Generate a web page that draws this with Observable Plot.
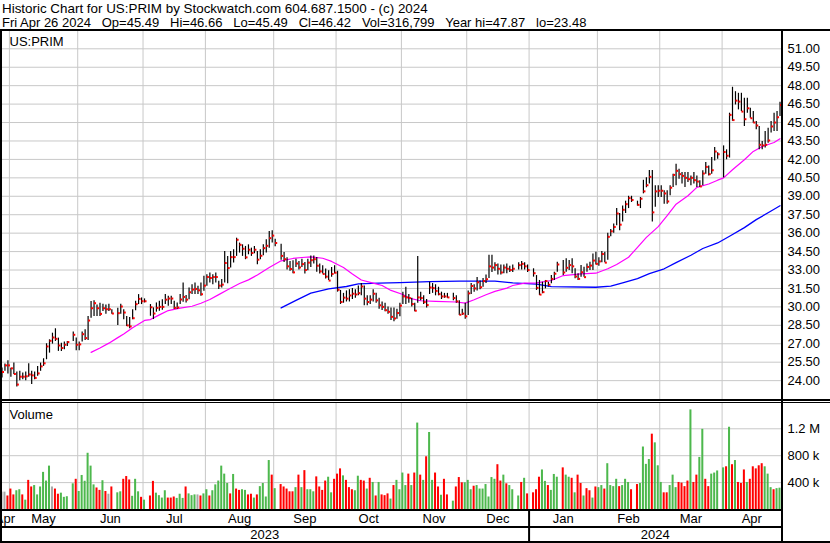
<!DOCTYPE html>
<html><head><meta charset="utf-8">
<script src="https://cdn.jsdelivr.net/npm/d3@7"></script>
<script src="https://cdn.jsdelivr.net/npm/@observablehq/plot@0.6"></script>
<style>
body{margin:0;background:#fff;}
#chart{position:relative;width:830px;height:543px;overflow:hidden;background:#fff;font-family:"Liberation Sans",Arial,sans-serif;}
#chart > *{position:absolute;}
.ln{background:#000;}
</style></head>
<body><div id="chart"></div>
<script>
// ---------- DATA ----------
const symbol = "US:PRIM";
const headerLine1 = "Historic Chart for US:PRIM by Stockwatch.com 604.687.1500 - (c) 2024";
const headerFields = ["Fri Apr 26 2024", "Op=45.49", "Hi=46.66", "Lo=45.49", "Cl=46.42", "Vol=316,799", "Year hi=47.87", "lo=23.48"];
const startDate = "2023-04-26", endDate = "2024-04-26";
const holidays = ["2023-05-29","2023-06-19","2023-07-04","2023-09-04","2023-11-23","2023-12-25","2024-01-01","2024-01-15","2024-02-19","2024-03-29"];
const priceTicks = [24,25.5,27,28.5,30,31.5,33,34.5,36,37.5,39,40.5,42,43.5,45,46.5,48,49.5,51];
const volumeTicks = [400000, 800000, 1200000];
const volumeTickLabels = ["400 k", "800 k", "1.2 M"];
const monthNames = ["Jan","Feb","Mar","Apr","May","Jun","Jul","Aug","Sep","Oct","Nov","Dec"];

// daily high / low / close per trading day (one line per month)
const high = [25.03,25.35,25.62,
25.0,25.43,24.70,24.76,24.62,24.70,25.38,24.76,24.70,25.14,25.43,25.78,27.0,27.32,27.86,28.22,27.46,27.05,27.14,27.19,27.95,27.46,
27.14,27.95,28.14,29.22,30.43,30.49,30.16,30.30,30.22,30.16,30.22,29.76,29.89,30.22,29.76,29.22,29.14,29.76,30.46,31.0,30.73,
30.65,30.19,29.92,30.32,30.46,30.59,31.0,30.86,30.86,30.46,30.32,31.0,31.95,30.92,31.54,31.81,31.95,31.68,31.95,32.49,
32.62,32.76,32.62,32.76,32.08,32.22,34.51,34.11,34.51,34.65,35.59,35.19,35.05,34.92,35.05,34.78,34.92,34.51,34.65,35.05,35.46,36.14,36.2,
35.5,35.1,34.42,34.0,33.70,33.75,33.88,33.70,33.88,33.62,33.88,34.15,34.15,34.02,33.48,33.35,33.08,32.95,33.21,33.35,
32.9,31.34,31.1,31.3,31.4,31.5,31.4,31.7,31.9,31.7,30.9,30.9,31.4,31.1,30.7,30.4,30.3,30.0,29.9,29.9,29.8,30.3,
31.2,31.6,31.0,30.7,30.3,34.1,31.2,30.9,30.6,32.0,31.9,31.8,31.6,31.2,31.1,31.1,31.1,30.9,30.5,29.8,30.3,
31.3,31.9,31.8,32.4,32.1,32.3,32.6,34.2,34.2,33.6,33.5,33.4,33.4,33.5,33.3,33.4,33.6,33.7,33.6,33.4,
33.1,32.55,32.15,32.01,32.15,32.01,32.55,32.82,33.64,33.77,33.91,33.77,33.91,33.1,32.69,33.36,33.23,33.5,33.64,34.31,34.45,
34.0,34.5,34.45,36.0,36.3,36.74,38.0,37.6,38.2,38.6,39.0,39.0,38.6,38.9,40.3,40.5,41.1,41.1,39.85,39.85,
39.85,39.45,39.45,39.85,40.8,41.61,41.2,40.93,40.93,40.93,40.66,40.93,40.66,40.26,41.07,41.74,41.47,42.15,42.96,42.55,
43.1,42.78,45.76,47.87,47.51,47.38,47.38,46.97,46.97,46.16,45.89,45.08,44.68,43.46,44.27,44.54,45.08,45.76,45.89,46.66];
const low = [24.22,24.76,24.54,
24.27,24.49,23.48,24.0,24.08,24.0,24.27,23.68,24.08,24.35,24.76,25.16,25.70,26.24,26.97,27.19,26.38,26.38,26.51,26.78,27.19,26.43,
26.43,27.14,27.27,27.27,29.08,29.22,29.22,29.22,29.62,29.41,29.62,29.41,28.49,29.41,28.95,28.41,28.22,28.95,29.68,30.19,30.19,
30.32,29.24,28.97,29.57,29.65,29.73,30.19,30.05,30.19,29.78,29.78,30.19,30.38,30.32,30.59,31.0,31.0,31.0,30.86,31.27,
31.68,31.95,31.81,31.95,31.41,31.54,31.95,31.89,33.16,33.57,34.11,34.38,34.11,33.84,34.24,34.11,34.32,33.43,33.84,34.16,34.38,34.78,35.2,
34.9,33.8,33.62,33.0,32.89,32.70,33.21,33.0,33.21,32.68,32.95,33.21,33.48,32.81,32.68,32.68,32.27,32.14,32.41,32.68,
31.2,30.2,30.3,30.4,30.4,30.6,30.7,30.9,30.9,30.1,30.1,30.2,30.4,30.3,29.8,29.7,29.6,29.4,28.9,28.8,29.0,29.2,
30.2,30.2,30.3,30.0,29.6,30.3,30.5,30.2,29.9,31.0,31.1,30.9,30.9,30.6,30.7,30.7,30.5,30.3,29.3,29.3,29.0,
29.3,31.0,31.2,31.3,31.4,31.6,31.9,32.3,32.8,32.9,32.6,32.6,32.7,32.7,32.8,32.8,33.0,33.0,33.0,32.8,
32.42,31.34,30.93,31.07,31.47,31.61,31.88,32.15,32.82,32.55,32.82,32.96,32.69,32.28,32.15,32.42,32.42,32.82,32.96,32.96,33.4,
33.3,33.6,33.6,33.8,35.7,36.0,36.6,36.2,36.9,37.6,38.0,38.5,38.2,38.0,39.2,39.7,40.0,36.9,38.1,38.9,
38.9,38.36,38.36,39.04,39.72,39.85,40.39,39.99,39.72,40.12,39.85,39.99,39.72,39.72,39.85,40.8,40.66,40.8,41.88,42.01,
40.5,41.97,42.11,45.1,46.43,46.03,45.89,44.68,45.76,45.35,44.95,44.41,42.78,42.78,42.92,43.32,44.14,44.27,44.27,45.49];
const close = [24.70,25.24,25.24,
25.0,24.54,23.68,24.32,24.32,24.35,24.5,24.43,24.22,24.59,25.16,25.41,26.78,27.24,27.51,27.40,26.86,26.65,26.92,27.14,27.73,26.92,
26.95,27.78,27.46,28.89,29.89,30.30,29.89,29.43,29.89,29.81,29.81,29.46,29.49,30.03,29.54,28.49,28.41,29.08,30.22,30.65,30.46,
30.46,29.97,29.46,29.92,30.0,30.0,30.59,30.68,30.68,29.92,29.95,30.6,30.81,30.59,31.19,31.41,31.46,31.35,31.03,31.73,
32.43,32.35,32.43,32.43,31.73,31.81,33.57,33.16,34.05,34.05,35.46,35.05,34.73,34.03,34.65,34.38,34.65,33.84,34.16,34.78,34.97,35.59,35.8,
35.2,34.15,33.88,33.3,33.08,32.81,33.53,33.21,33.48,33.0,33.6,33.8,33.88,33.35,32.89,32.68,32.46,32.14,32.68,32.78,
31.39,30.4,30.75,30.67,30.93,31.07,31.01,31.12,31.66,30.67,30.4,30.59,31.07,30.53,30.13,30.0,29.73,29.6,29.19,29.06,29.5,30.1,
30.85,30.77,30.72,30.23,29.69,30.77,30.72,30.39,30.15,31.58,31.53,31.3,31.04,30.85,30.85,30.77,30.72,30.45,29.36,29.45,29.23,
31.1,31.7,31.5,32.0,31.6,32.1,32.25,33.3,33.2,33.4,33.1,32.8,33.2,33.1,33.0,33.1,33.4,33.5,33.3,33.0,
32.74,31.55,31.0,31.2,32.1,31.8,32.28,32.7,33.45,32.8,33.18,33.4,33.3,32.47,32.28,32.82,32.42,33.25,33.36,33.77,33.5,
33.7,34.3,33.6,35.7,36.15,36.5,37.6,36.69,37.9,38.36,38.85,38.7,38.3,38.8,39.4,39.9,40.58,37.69,39.4,39.45,
39.45,39.23,38.58,39.7,40.74,41.07,40.8,40.66,40.5,40.39,40.5,40.31,40.2,39.8,40.85,41.39,40.8,41.12,42.64,42.42,
42.6,42.3,45.62,45.2,46.78,46.7,45.89,45.27,46.16,45.35,45.0,44.76,43.19,43.14,43.19,43.54,44.68,45.0,45.43,46.42];
// daily volume in thousands of shares (one line per month)
const volumeK = [258,258,201,
304,217,279,294,217,139,433,335,356,217,335,552,423,645,335,304,227,243,181,190,382,449,
268,506,420,836,645,366,320,284,428,268,227,335,248,263,449,490,439,196,449,263,181,
139,201,418,243,206,170,279,170,170,186,165,227,165,335,232,206,217,217,201,232,
294,201,279,366,423,645,526,387,232,521,304,284,294,284,217,227,170,217,340,387,186,728,511,
310,371,335,304,263,263,325,511,325,578,294,294,263,485,335,284,423,480,248,449,
526,604,500,433,325,294,279,495,433,423,304,464,402,201,402,217,206,232,155,356,433,294,
542,356,526,356,542,1285,511,433,784,1145,433,542,335,212,449,217,124,335,475,397,397,
433,294,346,356,304,304,371,186,475,449,666,423,511,382,356,294,201,402,464,232,
248,294,480,588,418,356,284,521,480,619,511,480,464,248,511,387,201,310,279,170,335,
325,356,304,681,356,340,449,340,356,449,402,294,371,387,929,671,743,1120,991,650,
402,248,248,356,511,325,402,392,340,423,1481,402,511,774,1192,449,340,526,542,573,
619,635,1223,666,728,402,387,588,402,449,635,604,650,681,635,526,325,294,310,317];
// close vs previous close per trading day: u = up, d = down, n = unchanged (one entry per month)
const volDirByMonth = [
  "nnd",
  "dduud"+"udduu"+"uuuun"+"dduuu"+"ud",
  "uuuuu"+"uddud"+"nduud"+"dduuu"+"d",
  "udduu"+"uuddd"+"uuudu"+"uundu",
  "uduuu"+"uuudu"+"dduud"+"duduu"+"uud",
  "udddd"+"dudud"+"uuudd"+"dduud",
  "ddudd"+"duudd"+"ududu"+"dddud"+"uu",
  "uudud"+"ududu"+"uddud"+"duddd"+"u",
  "uuduu"+"uuuuu"+"ddudu"+"uudud",
  "ddduu"+"duuud"+"uudud"+"duddu"+"d",
  "uuduu"+"uuduu"+"udduu"+"uuduu",
  "udduu"+"udddd"+"udduu"+"dduuu",
  "ududu"+"dddud"+"ddddu"+"uuduu"
];
// moving averages
const maShort = [["2023-06-07",26.3],["2023-06-12",26.65],["2023-06-15",27.05],["2023-06-20",27.5],["2023-06-22",27.8],["2023-06-27",28.3],["2023-07-03",28.9],["2023-07-05",28.97],["2023-07-10",29.35],["2023-07-13",29.7],["2023-07-19",29.9],["2023-07-25",30.05],["2023-07-28",30.3],["2023-08-02",30.6],["2023-08-07",31.0],["2023-08-10",31.4],["2023-08-16",31.9],["2023-08-21",32.2],["2023-08-24",32.6],["2023-08-30",33.2],["2023-09-05",33.75],["2023-09-11",33.94],["2023-09-14",34.02],["2023-09-19",34.07],["2023-09-25",33.96],["2023-09-28",33.7],["2023-10-04",33.2],["2023-10-09",32.68],["2023-10-12",32.19],["2023-10-18",31.93],["2023-10-23",31.74],["2023-10-26",31.34],["2023-11-01",31.01],["2023-11-03",30.72],["2023-11-09",30.5],["2023-11-16",30.45],["2023-11-27",30.4],["2023-11-30",30.31],["2023-12-05",30.58],["2023-12-11",30.99],["2023-12-14",31.26],["2023-12-20",31.53],["2023-12-22",31.74],["2023-12-28",31.93],["2024-01-03",31.95],["2024-01-10",32.15],["2024-01-16",32.55],["2024-01-24",32.69],["2024-01-31",32.74],["2024-02-06",33.1],["2024-02-09",33.45],["2024-02-15",34.04],["2024-02-20",34.85],["2024-02-23",35.66],["2024-02-29",36.53],["2024-03-05",37.42],["2024-03-08",38.36],["2024-03-14",39.04],["2024-03-19",39.72],["2024-03-25",40.0],["2024-03-28",40.31],["2024-04-01",40.5],["2024-04-04",41.16],["2024-04-10",41.97],["2024-04-15",42.65],["2024-04-18",43.05],["2024-04-24",43.38],["2024-04-26",43.68]];
const maLong = [["2023-09-05",29.92],["2023-09-12",30.53],["2023-09-19",31.12],["2023-09-27",31.47],["2023-10-05",31.66],["2023-10-11",31.87],["2023-10-20",31.93],["2023-10-31",31.97],["2023-11-14",32.05],["2023-11-28",32.1],["2023-12-14",32.1],["2023-12-22",31.95],["2024-01-03",31.85],["2024-01-10",31.65],["2024-01-31",31.6],["2024-02-07",31.69],["2024-02-13",31.95],["2024-02-20",32.3],["2024-02-26",32.7],["2024-03-04",33.1],["2024-03-08",33.6],["2024-03-15",34.2],["2024-03-21",34.75],["2024-03-28",35.2],["2024-04-03",35.75],["2024-04-10",36.45],["2024-04-16",37.1],["2024-04-23",37.8],["2024-04-26",38.23]];

// ---------- BUILD ----------
const volDir = volDirByMonth.join("");
const weekdays = [];
for (let d = new Date(startDate + "T00:00:00Z"); d <= new Date(endDate + "T00:00:00Z"); d.setUTCDate(d.getUTCDate() + 1)) {
  const wd = d.getUTCDay();
  if (wd === 0 || wd === 6) continue;
  weekdays.push(d.toISOString().slice(0, 10));
}
const slot = new Map(weekdays.map((d, i) => [d, i]));
const tradingDays = weekdays.filter(d => !holidays.includes(d));
const bars = tradingDays.map((date, k) => ({
  date, i: slot.get(date), hi: high[k], lo: low[k], cl: close[k],
  vol: volumeK[k] * 1000, dir: volDir[k]
}));
const maS = maShort.filter(d => slot.has(d[0])).map(([d, v]) => ({i: slot.get(d), v}));
const maL = maLong.filter(d => slot.has(d[0])).map(([d, v]) => ({i: slot.get(d), v}));

function spans(keyFn) {
  const out = [];
  weekdays.forEach((d, i) => {
    const k = keyFn(d);
    if (!out.length || out[out.length - 1].key !== k) out.push({key: k, first: i, last: i});
    else out[out.length - 1].last = i;
  });
  return out.map(s => ({...s, center: (s.first + s.last) / 2, start: s.first - 0.5}));
}
const months = spans(d => d.slice(0, 7)).map(s => ({...s, label: monthNames[+s.key.slice(5, 7) - 1]}));
const years = spans(d => d.slice(0, 4)).map(s => ({...s, label: s.key}));
const monthLines = months.slice(1).map(s => s.start);
const yearLines = years.slice(1).map(s => s.start);

const W = 830, PR = 781;
const xDomain = [-0.5, weekdays.length - 0.5];
const font = '"Liberation Sans", Arial, sans-serif';
const grid = "#c8c8c8";
const chart = document.getElementById("chart");
function place(el, top, left) { el.style.top = top + "px"; el.style.left = left + "px"; chart.appendChild(el); return el; }
function line(top, left, w, h) { const d = document.createElement("div"); d.className = "ln"; d.style.width = w + "px"; d.style.height = h + "px"; return place(d, top, left); }

// header
const hdr = d3.create("svg").attr("width", W).attr("height", 30).style("font-family", font).style("font-size", "13px");
hdr.append("text").attr("x", 2).attr("y", 13).style("white-space", "pre").style("font-size", "13.4px").text(headerLine1);
hdr.append("text").attr("x", 2).attr("y", 26.5).style("white-space", "pre").text(headerFields.join("   "));
place(hdr.node(), 0, 0);

const baseStyle = {fontFamily: font, fontSize: "13px", background: "transparent", color: "black", overflow: "visible"};

// price panel
const pricePlot = Plot.plot({
  width: W, height: 371, marginLeft: 0, marginRight: W - PR, marginTop: 0, marginBottom: 0,
  style: baseStyle,
  x: {domain: xDomain, range: [0, PR], axis: null},
  y: {domain: [22.302, 52.489], axis: null},
  marks: [
    Plot.ruleY(priceTicks, {stroke: grid, strokeWidth: 1}),
    Plot.ruleX(monthLines, {stroke: grid, strokeWidth: 1}),
    Plot.line(maL, {x: "i", y: "v", stroke: "#0000ff", strokeWidth: 1.3}),
    Plot.line(maS, {x: "i", y: "v", stroke: "#ff00ff", strokeWidth: 1.2}),
    Plot.ruleX(bars, {x: "i", y1: "lo", y2: "hi", stroke: "black", strokeWidth: 1.2}),
    Plot.ruleY(bars, {x1: d => d.i + 0.17, x2: d => d.i + 0.85, y: "cl", stroke: "#ff0000", strokeWidth: 2}),
    Plot.axisY(priceTicks, {anchor: "right", label: null, tickSize: 0, tickPadding: 6, tickFormat: d => d.toFixed(2), fill: "black", fontSize: 13}),
    Plot.text([symbol], {frameAnchor: "top-left", dx: 9, dy: 6.5, fill: "black", fontSize: 13})
  ]
});
place(pricePlot, 30, 0);

// volume panel
const dirColor = {u: "#4db84d", d: "#ff0000", n: "#a8a8a8"};
const volPlot = Plot.plot({
  width: W, height: 106, marginLeft: 0, marginRight: W - PR, marginTop: 0, marginBottom: 0,
  style: baseStyle,
  x: {domain: xDomain, range: [0, PR], axis: null},
  y: {domain: [0, 1576000], axis: null},
  marks: [
    Plot.ruleY(volumeTicks, {stroke: grid}),
    Plot.ruleX(monthLines, {stroke: grid}),
    Plot.rectY(bars, {x1: d => d.i - 0.34, x2: d => d.i + 0.34, y1: 0, y2: "vol", fill: d => dirColor[d.dir]}),
    Plot.axisY(volumeTicks, {anchor: "right", label: null, tickSize: 0, tickPadding: 6, tickFormat: (d, j) => volumeTickLabels[j], fill: "black", fontSize: 13}),
    Plot.text(["Volume"], {frameAnchor: "top-left", dx: 9, dy: 6, fill: "black", fontSize: 13})
  ]
});
place(volPlot, 403, 0);

// time axis (months + years)
const axisPlot = Plot.plot({
  width: W, height: 34, marginLeft: 0, marginRight: W - PR, marginTop: 0, marginBottom: 0,
  style: baseStyle,
  x: {domain: xDomain, range: [0, PR], axis: null},
  marks: [
    Plot.text(months, {x: "center", text: "label", frameAnchor: "top", lineAnchor: "middle", dy: 9, fill: "black", fontSize: 13}),
    Plot.text(years, {x: "center", text: "label", frameAnchor: "top", lineAnchor: "middle", dy: 25.5, fill: "black", fontSize: 13}),
    Plot.ruleX(yearLines, {stroke: "black", strokeWidth: 2})
  ]
});
place(axisPlot, 509, 0);

// frame lines
line(29, 0, W, 2);        // top of price panel
line(29, 0, 2, 514);      // left edge
line(29, PR, 2, 514);     // right edge of plotting area
line(399, 0, W, 2);       // price / volume separator
line(402, 0, W, 1);
line(509, 0, PR, 2);      // bottom of volume panel
line(526, 0, PR, 2);      // months / years separator
line(541, 0, W, 2);       // bottom
</script></body></html>
